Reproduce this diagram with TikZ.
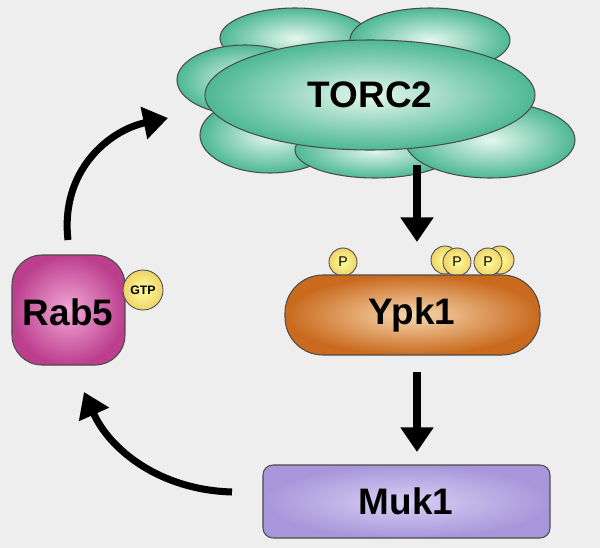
\documentclass[tikz,border=0pt]{standalone}
\usepackage{fontspec}
\setmainfont{Liberation Sans}
\usetikzlibrary{arrows.meta}
\definecolor{bg}{HTML}{EEEEEE}
\definecolor{teal1}{HTML}{4DB895}
\definecolor{teal2}{HTML}{E6F7EF}
\definecolor{org}{HTML}{C96A1E}
\definecolor{org2}{HTML}{F7D9B0}
\definecolor{lav}{HTML}{A797DA}
\definecolor{lav2}{HTML}{D8CFF3}
\definecolor{mag}{HTML}{BC3F8E}
\definecolor{mag2}{HTML}{F3A8D6}
\definecolor{yel}{HTML}{EED36A}
\tikzset{
 cl/.style={draw=black!70,line width=0.6pt,inner color=teal2,outer color=teal1},
 ph/.style={circle,draw=black!70,line width=0.5pt,inner color=yellow!40,outer color=yel,minimum size=28*0.02cm,inner sep=0pt,font=\footnotesize},
 lab/.style={font=\bfseries\fontsize{21}{24}\selectfont},
 arr/.style={line width=4pt,-{Triangle[length=14pt,width=18pt]}}
}
\begin{document}
\begin{tikzpicture}[x=0.02cm,y=-0.02cm]
\fill[bg] (0,0) rectangle (600,548);
\useasboundingbox (0,0) rectangle (600,548);
% TORC2 cluster
\draw[cl] (295,38) ellipse (75 and 30);
\draw[cl] (430,40) ellipse (80 and 32);
\draw[cl] (245,80) ellipse (68 and 35);
\draw[cl] (270,135) ellipse (70 and 38);
\draw[cl] (375,150) ellipse (80 and 28);
\draw[cl] (490,140) ellipse (85 and 38);
\draw[cl] (370,95) ellipse (165 and 55);
\node[lab] (torc) at (370,95) {TORC2};
% Ypk1
\node[ph] (p1) at (343,262) {P};
\node[ph] at (445,260) {};
\node[ph] at (500,260) {};
\node[ph] (p2) at (457,262) {P};
\node[ph] (p3) at (488,262) {P};
\draw[line width=0.6pt,draw=black!70,inner color=org2,outer color=org,rounded corners=38*0.02cm] (285,275) rectangle (540,355);
\node[lab] (ypk) at (412,315) {Ypk1};
% Muk1
\draw[line width=0.6pt,draw=black!70,inner color=lav2,outer color=lav,rounded corners=10*0.02cm] (263,465) rectangle (550,538);
\node[lab] (muk) at (406,501) {Muk1};
% Rab5
\draw[line width=0.6pt,draw=black!70,inner color=mag2,outer color=mag,rounded corners=30*0.02cm] (12,255) rectangle (125,365);
\node[lab] (rab) at (68,312) {Rab5};
\node[ph,minimum size=40*0.02cm,font=\bfseries\scriptsize] (gtp) at (143,290) {GTP};
% arrows
\coordinate (a1) at (417,165); \coordinate (a2) at (417,242);
\coordinate (b1) at (417,372); \coordinate (b2) at (417,452);
\draw[arr] (a1) -- (a2);
\draw[arr] (b1) -- (b2);
\coordinate (c1) at (68,240); \coordinate (c2) at (168,118);
\draw[arr] (c1) .. controls (60,170) and (110,130) .. (c2);
\coordinate (d1) at (232,492); \coordinate (d2) at (84,392);
\draw[arr] (d1) .. controls (160,490) and (110,450) .. (d2);
\end{tikzpicture}
\end{document}
